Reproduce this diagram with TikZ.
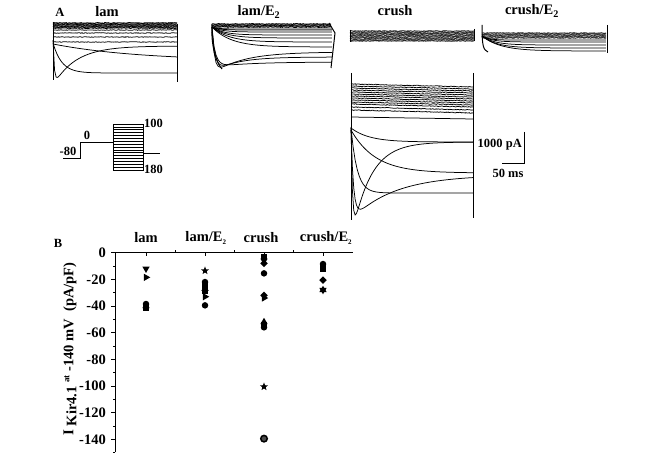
\documentclass[tikz,border=0pt]{standalone}
\usepackage{fontspec}
\setmainfont{Liberation Serif}
\usetikzlibrary{shapes.geometric,decorations.pathmorphing}

\tikzset{
  trace/.style={line width=0.75pt},
  noisy/.style={trace, decorate, decoration={random steps, segment length=1pt, amplitude=0.35pt}},
  edge/.style={line width=1pt},
  lbl/.style={font=\fontsize{14.5}{16}\selectfont\bfseries, inner sep=0pt},
  small/.style={font=\fontsize{12.5}{14}\selectfont\bfseries, inner sep=0pt},
  dat/.style={fill=black, inner sep=0pt, outer sep=0pt},
  mcirc/.style={dat, circle, minimum size=6.5pt},
  mhalf/.style={mcirc, draw=black, line width=1.5pt, fill=black!70},
  msq/.style={dat, rectangle, minimum size=6pt},
  mup/.style={dat, regular polygon, regular polygon sides=3, minimum size=8.5pt},
  mdown/.style={mup, shape border rotate=180},
  mright/.style={mup, shape border rotate=-90},
  mdia/.style={dat, diamond, minimum size=7.5pt},
  mstar/.style={dat, star, star points=5, star point ratio=2.4, minimum size=8.5pt}
}

\begin{document}
\begin{tikzpicture}[x=1pt, y=-1pt]
  \useasboundingbox (0,0) rectangle (661,457);

  % panel A, labels
  \node[small] (lblA) at (60,12) {A};
  \node[lbl] (tlam) at (107,12) {lam};
  \node[lbl] (tlamE) at (259,12) {lam/E\textsubscript{2}};
  \node[lbl] (tcrush) at (395,11) {crush};
  \node[lbl] (tcrushE) at (532,11) {crush/E\textsubscript{2}};

  % lam traces
  \draw[edge] (53,22) -- (53,80);
  \draw[edge] (177,24) -- (177,82);
  \foreach \y in {23,24,25,26,27,28} \draw[noisy, line width=1pt] (53,\y) -- (177,\y);
  \foreach \y in {30,33,37,42} \draw[noisy] (53,\y) -- (177,\y);
  \draw[trace] plot[domain=0:1, samples=60] ({53+124*\x}, {61-17*exp(-\x/0.7)});
  \draw[trace] plot[domain=0:1, samples=60] ({53+124*\x}, {73-30*exp(-\x/0.07)});
  \draw[trace] plot[domain=0:1, samples=80] ({53+124*\x}, {46+40*exp(-\x/0.18)-46*exp(-\x/0.01)});

  % lam/E2 traces
  \draw[edge] (212,24) .. controls (211,40) and (214,60) .. (222,69);
  \draw[edge] (329,23) -- (335,33) -- (331,68);
  \foreach \y in {24,25,26,27} \draw[noisy, line width=1pt] (212,\y) -- (331,\y);
  \foreach \yr/\tc in {29/0.05, 30/0.06, 32/0.08, 35/0.1, 38/0.12, 42/0.14, 47/0.16}
    \draw[trace] plot[domain=0:1, samples=50] ({212+120*\x}, {\yr-(\yr-27)*exp(-\x/\tc)});
  \draw[trace] plot[domain=0:1, samples=60] ({212+120*\x}, {62+5*exp(-\x/0.3)-35*exp(-\x/0.03)});
  \draw[trace] plot[domain=0:1, samples=60] ({212+120*\x}, {52+22*exp(-\x/0.25)-47*exp(-\x/0.02)});
  \draw[trace] plot[domain=0:1, samples=60] ({212+120*\x}, {57+15*exp(-\x/0.2)-45*exp(-\x/0.025)});

  % crush traces
  \draw[edge] (350,30) -- (350,42);
  \draw[edge] (474,29) -- (474,41);
  \foreach \y in {31,32,33,34,35,36,37,38,39,40,41} \draw[noisy] (350,\y) -- (474,\y);

  % crush/E2 traces
  \draw[edge] (482,25) .. controls (482,45) and (483,50) .. (488,52);
  \draw[edge] (607,25) -- (607,53);
  \foreach \y in {33,34,35,36,37,38} \draw[noisy] (482,\y) -- (606,\y);
  \foreach \yr/\tc in {40/0.05, 42/0.08, 45/0.1, 48/0.12, 51/0.15}
    \draw[trace] plot[domain=0:1, samples=50] ({482+124*\x}, {\yr-(\yr-36)*exp(-\x/\tc)});

  % crush large traces
  \draw[edge] (351,73) -- (351,220);
  \draw[edge] (473,73) -- (473,218);
  \foreach \y in {84,86,88,90,92,94,96,98,100,102,104,107,110}
    \draw[noisy] (351,\y) -- (473,{\y+3});
  \draw[trace] (351,117) -- (473,119);
  \draw[trace] plot[domain=0:1, samples=60] ({351+122*\x}, {142-14*exp(-\x/0.15)});
  \draw[trace] plot[domain=0:1, samples=60] ({351+122*\x}, {173-43*exp(-\x/0.2)});
  \draw[trace] plot[domain=0:1, samples=60] ({351+122*\x}, {193-65*exp(-\x/0.05)});
  \draw[trace] plot[domain=0:1, samples=90] ({351+122*\x}, {142+100*exp(-\x/0.15)-115*exp(-\x/0.012)});
  \draw[trace] plot[domain=0:1, samples=90] ({351+122*\x}, {175+45*exp(-\x/0.35)-90*exp(-\x/0.02)});

  % scale bar
  \coordinate (sbtop) at (524,132);
  \coordinate (sbcorner) at (524,163);
  \coordinate (sbleft) at (502,163);
  \draw[trace] (sbtop) -- (sbcorner) -- (sbleft);
  \node[small, anchor=east] (pa) at (522,145) {1000 pA};
  \node[small] (ms) at (508,173) {50 ms};

  % voltage protocol
  \draw[trace] (63,158) -- (80,158) -- (80,142) -- (113,142);
  \draw[trace] (113,124) rectangle (143,170);
  \foreach \k in {1,...,15} \draw[trace, line width=0.6pt] (113,{124+46*\k/16}) -- (143,{124+46*\k/16});
  \draw[trace] (143,153) -- (160,153);
  \node[small] (vhold) at (68,151) {-80};
  \node[small] (vzero) at (87,135) {0};
  \node[small, anchor=west] (vtop) at (144,123) {100};
  \node[small, anchor=west] (vbot) at (144,169) {180};

  % panel B
  \node[small] (lblB) at (58,243) {B};
  \coordinate (orig) at (115,252.7);
  \draw[edge] (115,452) -- (orig) -- (353,252.7);
  \foreach \v in {0,-20,...,-140} {
    \draw[trace] (115,{252.7-1.333*\v}) -- ++(-4,0);
    \node[lbl, anchor=east] (tk\v) at (106,{252.7-1.333*\v}) {\v};
  }
  \foreach \v in {-10,-30,...,-130,-150} \draw[trace] (115,{252.7-1.333*\v}) -- ++(-2.5,0);
  \foreach \cx in {146,205,264,323} \draw[trace] (\cx,252.7) -- ++(0,3.5);
  \foreach \cx in {175.5,234.5,293.5} \draw[trace] (\cx,252.7) -- ++(0,-2.5);
  \node[lbl] (clam) at (146,238) {lam};
  \node[lbl] (clamE) at (206,238) {lam/E\textsubscript{\scriptsize 2}};
  \node[lbl] (ccrush) at (261,238) {crush};
  \node[lbl] (ccrushE) at (326,238) {crush/E\textsubscript{\scriptsize 2}};
  \node[lbl, rotate=90] (ylab) at (70,349)
    {{\fontsize{15}{15}\selectfont I} \raisebox{-3pt}{Kir4.1} \raisebox{4pt}{\fontsize{9}{9}\selectfont at} -140 mV\ \ (pA/pF)};

  % data points
  \foreach \cx/\v/\s [count=\i] in {146/-12/mdown, 146/-18.5/mright, 146/-38.5/mcirc, 146/-40/mup, 146/-41.5/msq,
      205/-13.5/mstar, 205/-22/mcirc, 205/-24.5/msq, 205/-27/mup, 205/-29/msq, 205/-33/mright, 205/-39.5/mcirc,
      264/-3/msq, 264/-6/mdown, 264/-8/mdia, 264/-15.5/mcirc, 264/-32/mdia, 264/-34/mright,
      264/-52/mup, 264/-54.5/msq, 264/-56/mcirc, 264/-100.5/mstar, 264/-139.5/mhalf,
      323/-8.5/mcirc, 323/-10.5/msq, 323/-12.5/msq, 323/-20.5/mdia, 323/-28/mup, 323/-28/mdown}
    \node[\s] (pt\i) at (\cx,{252.7-1.333*\v}) {};
\end{tikzpicture}
\end{document}
